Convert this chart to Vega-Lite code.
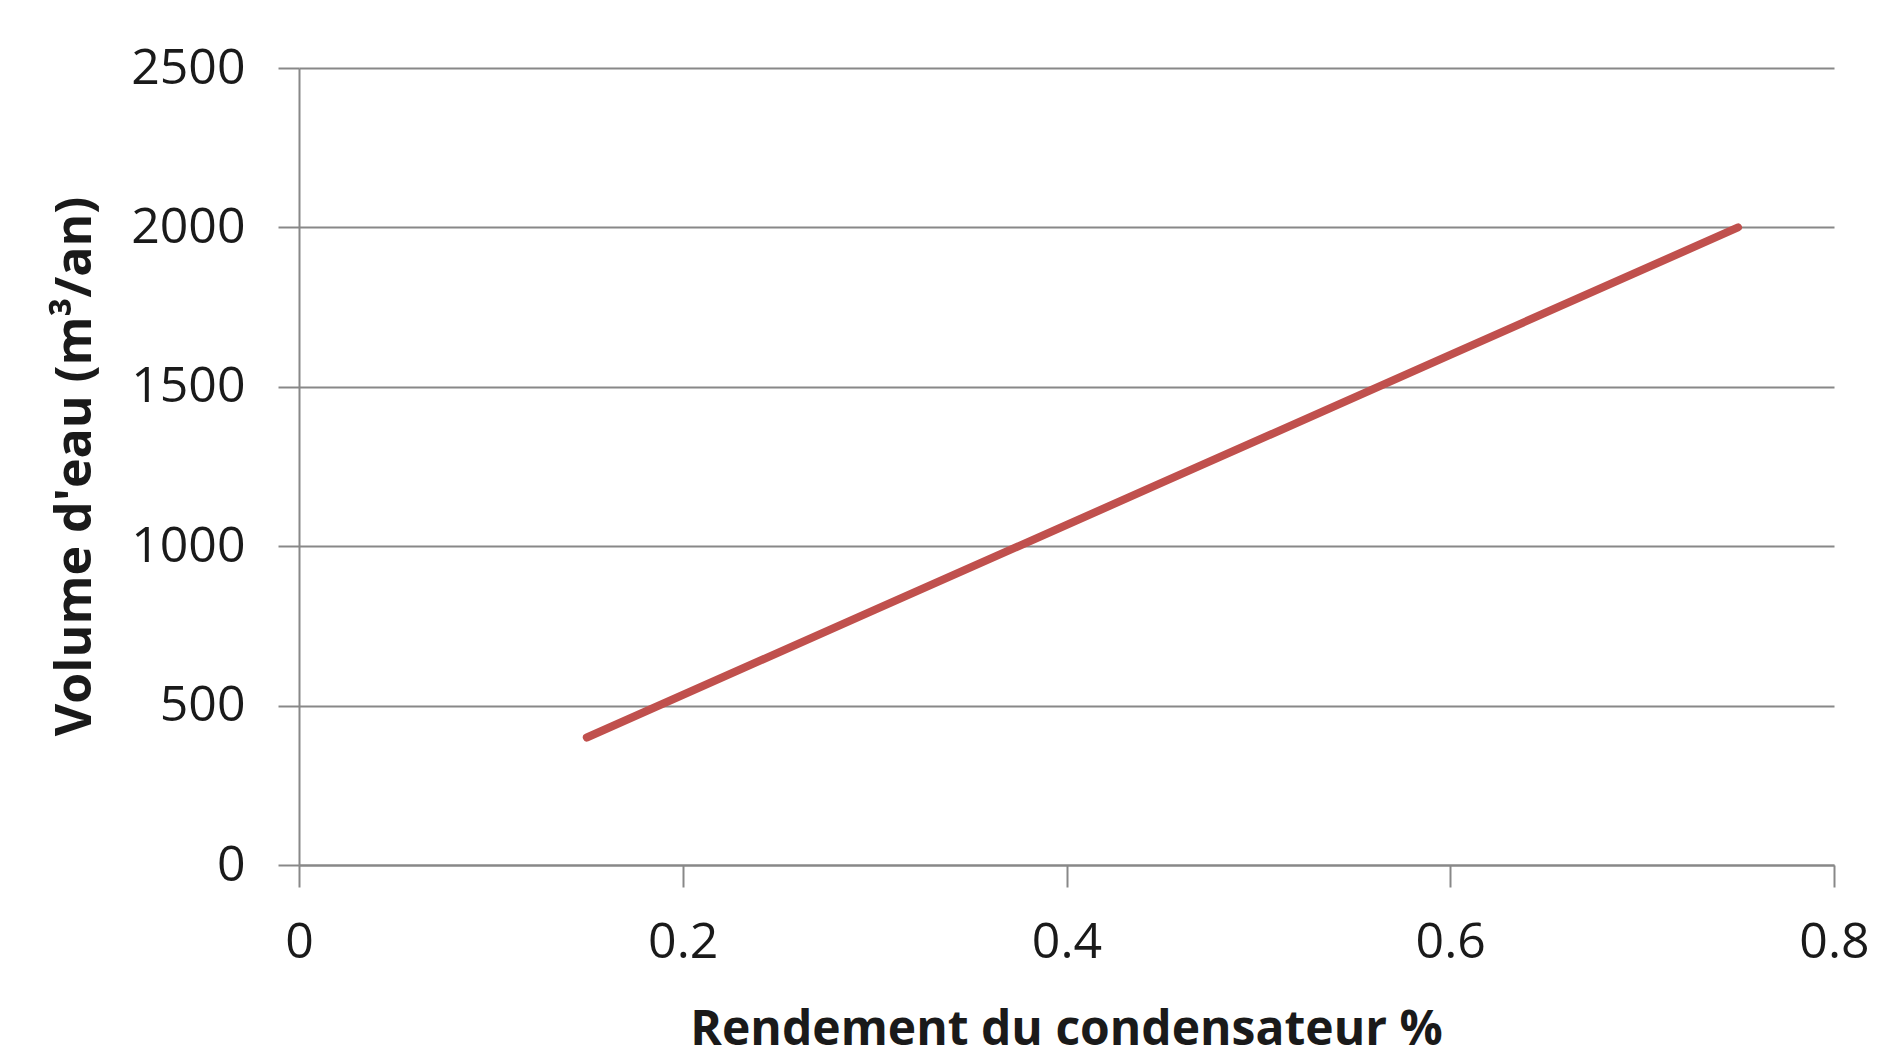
{
  "$schema": "https://vega.github.io/schema/vega-lite/v6.json",
  "autosize": {"type": "none"},
  "width": 1535,
  "height": 797,
  "padding": {"left": 299, "top": 68, "right": 63, "bottom": 196},
  "background": "white",
  "config": {
    "view": {"stroke": null},
    "font": "Open Sans"
  },
  "data": {
    "values": [
      {"rendement": 0.15, "volume": 400},
      {"rendement": 0.3, "volume": 800},
      {"rendement": 0.45, "volume": 1200},
      {"rendement": 0.6, "volume": 1600},
      {"rendement": 0.75, "volume": 2000}
    ]
  },
  "mark": {"type": "line", "color": "#C0504D", "strokeWidth": 8, "strokeCap": "round", "strokeJoin": "round"},
  "encoding": {
    "x": {
      "field": "rendement",
      "type": "quantitative",
      "scale": {"domain": [0, 0.8], "nice": false, "zero": false},
      "axis": {
        "values": [0, 0.2, 0.4, 0.6, 0.8],
        "format": "~g",
        "grid": false,
        "domainColor": "#888888",
        "domainWidth": 2,
        "tickColor": "#888888",
        "tickWidth": 2,
        "tickSize": 22,
        "labelFont": "Open Sans",
        "labelFontSize": 50,
        "labelColor": "#1a1a1a",
        "labelPadding": 30,
        "labelFlush": false,
        "labelOverlap": false,
        "title": "Rendement du condensateur %",
        "titleFont": "Open Sans",
        "titleFontSize": 48,
        "titleFontWeight": "bold",
        "titleColor": "#1a1a1a",
        "titleX": 767,
        "titleY": 165,
        "titleBaseline": "middle",
        "titleAlign": "center"
      }
    },
    "y": {
      "field": "volume",
      "type": "quantitative",
      "scale": {"domain": [0, 2500], "nice": false},
      "axis": {
        "values": [0, 500, 1000, 1500, 2000, 2500],
        "format": "d",
        "grid": true,
        "gridColor": "#888888",
        "gridWidth": 2,
        "domainColor": "#888888",
        "domainWidth": 2,
        "tickColor": "#888888",
        "tickWidth": 2,
        "tickSize": 21,
        "labelFont": "Open Sans",
        "labelFontSize": 50,
        "labelColor": "#1a1a1a",
        "labelPadding": 33,
        "labelOverlap": false,
        "title": "Volume d'eau (m³/an)",
        "titleFont": "Open Sans",
        "titleFontSize": 50,
        "titleFontWeight": "bold",
        "titleColor": "#1a1a1a",
        "titleAngle": -90,
        "titleX": -224,
        "titleY": 398,
        "titleBaseline": "middle",
        "titleAlign": "center"
      }
    }
  }
}
